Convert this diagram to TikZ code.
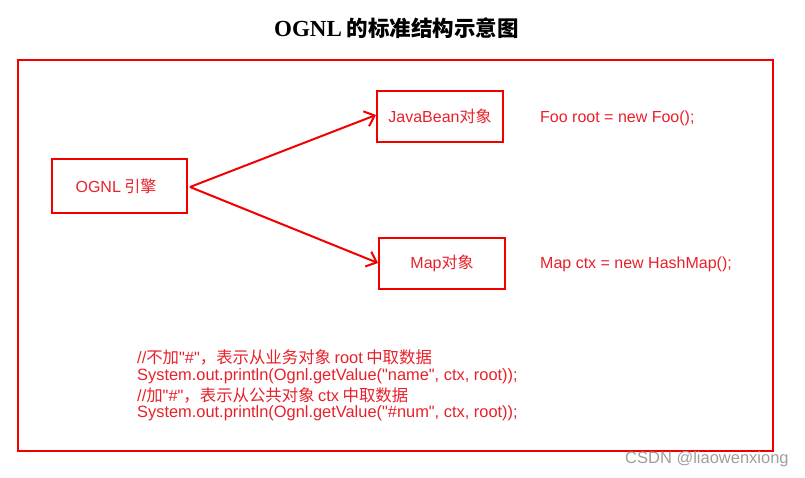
\documentclass[tikz,border=0pt]{standalone}
\usepackage{fontspec}
\newfontfamily\lat{Liberation Sans}
\newfontfamily\cjk{Noto Sans CJK SC}
\newfontfamily\titlelat{Liberation Serif}
\newcommand\zh[1]{{\cjk #1}}
\newcommand\gp{\hspace{3.5pt}}
\usetikzlibrary{arrows.meta}
\definecolor{boxred}{HTML}{F20000}
\definecolor{txtred}{HTML}{E8202A}
\begin{document}
\begin{tikzpicture}[x=1pt,y=-1pt,
  box/.style={draw=boxred,line width=2pt,inner sep=0pt},
  lbl/.style={text=txtred,font=\fontsize{16}{19}\lat,inner sep=0pt},
  conn/.style={draw=boxred,line width=2pt,-{Straight Barb[length=9pt,width=16pt,line width=2pt]}},
  code/.style={text=txtred,font=\fontsize{16.4}{19}\lat,inner sep=0pt,anchor=west,align=left}]
\useasboundingbox (0,0) rectangle (805,478);
\node[font=\fontsize{23}{26}\selectfont\bfseries,inner sep=0pt] (title) at (396.5,28) {{\titlelat OGNL}\hspace{5pt}{\fontsize{21.5}{24}\cjk\bfseries 的标准结构示意图}};
\draw[boxred,line width=2pt] (18,60) rectangle (773,451);
\draw[box] (52,159) rectangle (187,213);
\node[lbl] (ognl) at (116,186) {OGNL\gp\zh{引擎}};
\coordinate (ognlE) at (190,187);
\draw[box] (377,91) rectangle (503,142);
\node[lbl] (bean) at (440,116.5) {JavaBean\zh{对象}};
\coordinate (beanW) at (376,115);
\draw[box] (379,238) rectangle (505,289);
\node[lbl] (map) at (442,263.5) {Map\zh{对象}};
\coordinate (mapW) at (378,263);
\draw[conn] (ognlE) -- (beanW);
\draw[conn] (ognlE) -- (mapW);
\node[lbl,anchor=west] (foo) at (540,118) {Foo root = new Foo();};
\node[lbl,anchor=west] (ctx) at (540,264) {Map ctx = new HashMap();};
\node[code] (c1) at (137,357) {//\zh{不加}"\#"\zh{，表示从业务对象}\gp root\gp\zh{中取数据}};
\node[code] (c2) at (137,376) {System.out.println(Ognl.getValue("name", ctx, root));};
\node[code] (c3) at (137,395) {//\zh{加}"\#"\zh{，表示从公共对象}\gp ctx\gp\zh{中取数据}};
\node[code] (c4) at (137,413) {System.out.println(Ognl.getValue("\#num", ctx, root));};
\node[text=black!38,font=\fontsize{16.5}{19}\lat,anchor=west,inner sep=0pt] (wm) at (625,459) {CSDN @liaowenxiong};
\end{tikzpicture}
\end{document}
